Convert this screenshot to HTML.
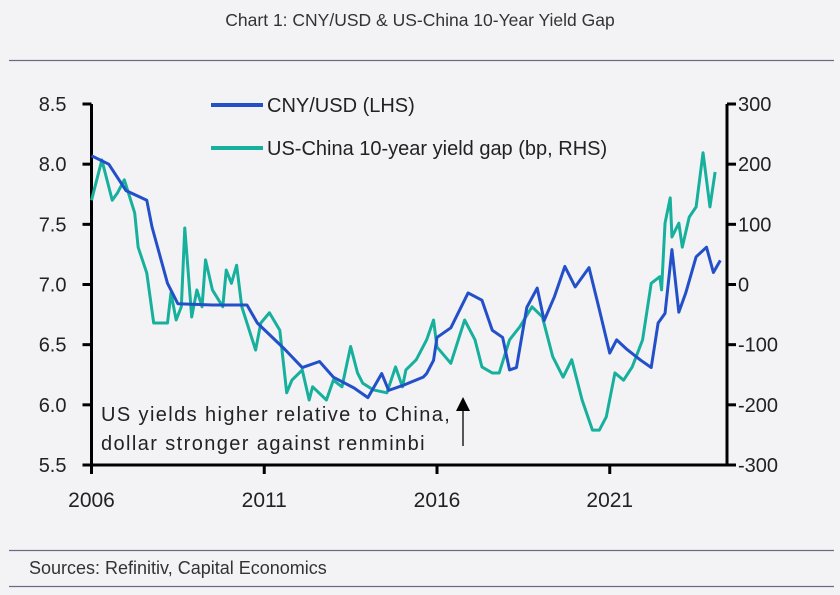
<!DOCTYPE html>
<html><head><meta charset="utf-8">
<style>
html,body{margin:0;padding:0;background:#f3f3f6;}
body{width:840px;height:595px;overflow:hidden;font-family:"Liberation Sans",sans-serif;}
svg{display:block}
</style></head>
<body>
<svg id="chart" width="840" height="595">
<rect x="0" y="0" width="840" height="595" fill="#f3f3f6"/>
<text x="420" y="26" text-anchor="middle" font-size="17.5" fill="#333">Chart 1: CNY/USD &amp; US-China 10-Year Yield Gap</text>
<line x1="9" y1="60.5" x2="834" y2="60.5" stroke="#6a6a85" stroke-width="1.2"/>
<line x1="9" y1="550.5" x2="834" y2="550.5" stroke="#6a6a85" stroke-width="1.2"/>
<line x1="9" y1="586.5" x2="834" y2="586.5" stroke="#6a6a85" stroke-width="1.2"/>
<text x="29" y="574" font-size="18" fill="#333">Sources: Refinitiv, Capital Economics</text>
<g id="plot"></g>
</svg>
<script>
const years = [2006.0,2006.5,2007.0,2007.6,2007.75,2008.2,2008.5,2009.5,2010.5,2010.8,2011.6,2012.1,2012.6,2013.0,2013.6,2014.0,2014.4,2014.6,2015.0,2015.6,2015.7,2015.9,2016.0,2016.4,2016.9,2017.3,2017.6,2017.9,2018.1,2018.3,2018.6,2018.9,2019.1,2019.4,2019.7,2020.0,2020.4,2020.7,2021.0,2021.2,2021.5,2021.9,2022.2,2022.4,2022.6,2022.8,2023.0,2023.2,2023.5,2023.8,2024.0,2024.2];
const cny = [8.07,8.0,7.78,7.7,7.48,7.01,6.84,6.83,6.83,6.68,6.46,6.31,6.36,6.23,6.14,6.06,6.26,6.12,6.16,6.23,6.26,6.37,6.56,6.64,6.93,6.87,6.62,6.56,6.29,6.31,6.81,6.97,6.70,6.90,7.15,6.98,7.14,6.79,6.43,6.54,6.46,6.37,6.31,6.68,6.76,7.29,6.77,6.93,7.23,7.31,7.10,7.20];
const gapYears = [2006.0,2006.3,2006.6,2006.75,2006.95,2007.25,2007.35,2007.6,2007.8,2008.2,2008.3,2008.45,2008.6,2008.7,2008.9,2009.05,2009.2,2009.3,2009.5,2009.8,2009.9,2010.05,2010.2,2010.35,2010.75,2010.9,2011.15,2011.45,2011.65,2011.8,2012.1,2012.3,2012.4,2012.8,2013.0,2013.25,2013.5,2013.7,2013.85,2014.15,2014.55,2014.8,2015.0,2015.1,2015.4,2015.7,2015.9,2016.0,2016.4,2016.8,2017.1,2017.3,2017.6,2017.8,2018.1,2018.4,2018.75,2019.05,2019.35,2019.65,2019.9,2020.2,2020.5,2020.7,2020.9,2021.15,2021.4,2021.65,2021.95,2022.2,2022.45,2022.5,2022.6,2022.75,2022.8,2023.0,2023.1,2023.3,2023.5,2023.7,2023.9,2024.05];
const gap = [140,207,140,152,174,119,62,19,-64,-64,-14,-59,-37,94,-54,-9,-37,41,-9,-37,24,2,32,-37,-109,-64,-47,-76,-180,-159,-142,-192,-170,-192,-159,-170,-103,-147,-164,-175,-180,-137,-170,-142,-125,-92,-59,-104,-131,-59,-92,-137,-147,-147,-92,-70,-37,-54,-120,-154,-125,-192,-242,-242,-220,-147,-159,-137,-92,2,13,-9,102,144,79,102,62,112,129,219,129,187];
const leftTicks = [5.5,6.0,6.5,7.0,7.5,8.0,8.5];
const rightTicks = [-300,-200,-100,0,100,200,300];
const xTicks = [2006,2011,2016,2021];

const X0=91.5, X1=727, YT=104, YB=465;
const xs = y => X0 + (y-2006)*34.55;
const yl = v => YB - (v-5.5)/3*(YB-YT);
const yr = v => YB - (v+300)/600*(YB-YT);
const NS="http://www.w3.org/2000/svg";
const g=document.getElementById('plot');
function mk(t,a){const e=document.createElementNS(NS,t);for(const k in a)e.setAttribute(k,a[k]);g.appendChild(e);return e;}

let e=mk('line',{x1:X0,y1:YT,x2:X0,y2:YB+1.5,stroke:'#000','stroke-width':3});


e=mk('line',{x1:X1,y1:YT,x2:X1,y2:YB+1.5,stroke:'#000','stroke-width':3});


e=mk('line',{x1:X0-1.5,y1:YB,x2:X1+1.5,y2:YB,stroke:'#000','stroke-width':3});



leftTicks.forEach(v=>{
  const t=mk('line',{x1:X0-9,y1:yl(v),x2:X0,y2:yl(v),stroke:'#000','stroke-width':3});
  
  
  const l=mk('text',{x:X0-25,y:yl(v)+7,'text-anchor':'end','font-size':20,fill:'#222'});
  l.textContent=v.toFixed(1);
  
  
});
rightTicks.forEach(v=>{
  const t=mk('line',{x1:X1,y1:yr(v),x2:X1+9,y2:yr(v),stroke:'#000','stroke-width':3});
  
  
  const l=mk('text',{x:X1+11,y:yr(v)+7,'font-size':20,fill:'#222'});
  l.textContent=String(v);
  
  
});
xTicks.forEach(v=>{
  const t=mk('line',{x1:xs(v),y1:YB,x2:xs(v),y2:YB+9,stroke:'#000','stroke-width':3});
  
  
  const l=mk('text',{x:xs(v),y:YB+42,'text-anchor':'middle','font-size':21,fill:'#222'});
  l.textContent=String(v);
  
  
});

const gp=mk('polyline',{points:gapYears.map((y,i)=>xs(y)+','+yr(gap[i])).join(' '),fill:'none',stroke:'#17b09c','stroke-width':3,'stroke-linejoin':'round'});


const cp=mk('polyline',{points:years.map((y,i)=>xs(y)+','+yl(cny[i])).join(' '),fill:'none',stroke:'#2350c8','stroke-width':3,'stroke-linejoin':'round'});



let le=mk('line',{x1:211,y1:105,x2:263,y2:105,stroke:'#2350c8','stroke-width':4});


le=mk('text',{x:267,y:112,'font-size':20,fill:'#222'});le.textContent='CNY/USD (LHS)';


le=mk('line',{x1:211,y1:148,x2:263,y2:148,stroke:'#17b09c','stroke-width':4});


le=mk('text',{x:267,y:155,'font-size':20,fill:'#222'});le.textContent='US-China 10-year yield gap (bp, RHS)';



let an=mk('text',{x:101,y:421,'font-size':20,'letter-spacing':1.4,fill:'#222'});an.textContent='US yields higher relative to China,';


an=mk('text',{x:101,y:450,'font-size':20,'letter-spacing':1.4,fill:'#222'});an.textContent='dollar stronger against renminbi';


an=mk('line',{x1:463,y1:410,x2:463,y2:446,stroke:'#222','stroke-width':1.5});


an=mk('polygon',{points:'456,411 470,411 463,397',fill:'#000'});


</script>
</body></html>
